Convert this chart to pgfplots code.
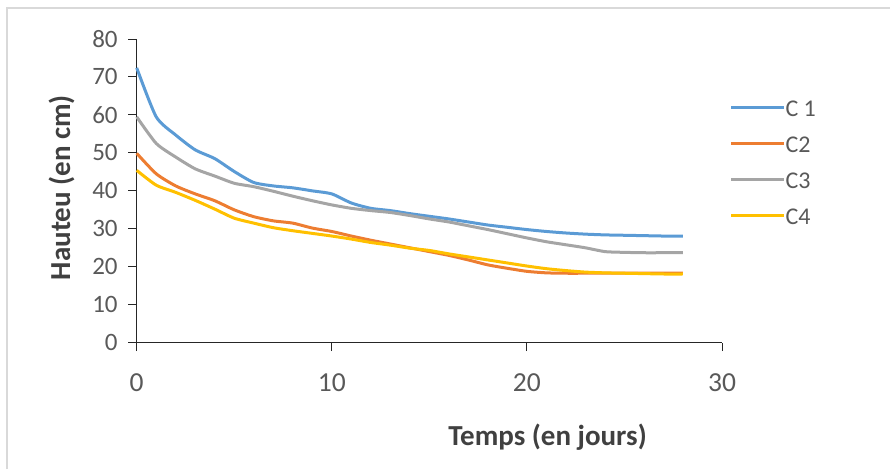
\documentclass[border=0pt]{standalone}
\usepackage{pgfplots}
\pgfplotsset{compat=1.18}
\usepackage{fontspec}
\setmainfont{Carlito}
\definecolor{cA}{HTML}{5B9BD5}
\definecolor{cB}{HTML}{ED7D31}
\definecolor{cC}{HTML}{A5A5A5}
\definecolor{cD}{HTML}{FFC000}
\definecolor{txt}{HTML}{595959}
\definecolor{lab}{HTML}{404040}
\definecolor{frame}{HTML}{D9D9D9}
\pgfplotstableread{
d c1 c2 c3 c4
0 72.4 49.9 59.5 45.4
1 59.5 44.5 52.5 41.5
2 54.7 41.3 48.9 39.6
3 50.8 39.2 45.8 37.5
4 48.5 37.4 43.9 35.2
5 45.1 35.0 42.0 32.8
6 42.2 33.2 41.1 31.5
7 41.3 32.1 39.9 30.3
8 40.8 31.5 38.6 29.5
9 40.0 30.2 37.4 28.8
10 39.2 29.3 36.3 28.1
11 36.8 28.1 35.4 27.3
12 35.4 27.0 34.8 26.4
13 34.8 26.0 34.3 25.7
14 34.0 25.0 33.5 24.9
15 33.3 24.0 32.6 24.3
16 32.6 23.0 31.8 23.4
17 31.8 21.8 30.8 22.6
18 31.0 20.5 29.8 21.8
19 30.4 19.6 28.7 21.0
20 29.8 18.8 27.6 20.2
21 29.3 18.4 26.6 19.5
22 28.9 18.3 25.8 19.0
23 28.6 18.3 25.0 18.6
24 28.4 18.3 24.0 18.4
25 28.3 18.3 23.8 18.3
26 28.2 18.3 23.7 18.2
27 28.1 18.3 23.7 18.1
28 28.1 18.3 23.7 18.1
}\data
\begin{document}
\begin{tikzpicture}
\path[use as bounding box] (0pt,0pt) rectangle (890pt,-469pt);
\draw[frame, line width=2pt] (7pt,-469pt) -- (7pt,-8pt) -- (890pt,-8pt);
\begin{axis}[
  at={(136.7pt,-342.7pt)}, anchor=origin,
  scale only axis, width=585.3pt, height=303.7pt,
  xmin=0, xmax=30, ymin=0, ymax=80,
  xtick={0,10,20,30}, ytick={0,10,...,80},
  axis lines=left, axis line style={black!85, line width=1pt, -},
  tick align=outside, major tick length=8.5pt,
  tick style={black!85, line width=1pt},
  clip=false,
  /pgf/number format/assume math mode=true,
  yticklabel style={font=\fontsize{25}{28}\selectfont, text=txt, xshift=-7pt},
  xticklabel style={font=\fontsize{27.5}{30}\selectfont, text=txt, yshift=-19pt},
  xlabel={Temps (en jours)},
  ylabel={Hauteu (en cm)},
  xlabel style={font=\fontsize{29}{32}\selectfont\bfseries, text=lab, at={(axis description cs:0.702,-0.3105)}, anchor=center},
  ylabel style={font=\fontsize{29}{32}\selectfont\bfseries, text=lab, at={(axis description cs:-0.1285,0.511)}, anchor=center, rotate=0},
  legend style={draw=none, fill=none, at={(axis description cs:1.0125,0.8105)}, anchor=north west,
    font=\fontsize{24}{27}\selectfont, text=txt, row sep=0pt, inner sep=0pt,
    nodes={inner sep=0pt, text height=20pt, text depth=16pt}},
  legend cell align=left,
  /tikz/every even column/.append style={column sep=12pt},
  legend image code/.code={\draw[#1, line width=3pt] (0pt,7.5pt) -- (53pt,7.5pt);},
  every axis plot/.append style={line width=3pt, line join=round, smooth, tension=0.4},
]
\addplot[cA] table[x=d,y=c1] {\data};
\addlegendentry{C 1}
\addplot[cB] table[x=d,y=c2] {\data};
\addlegendentry{C2}
\addplot[cC] table[x=d,y=c3] {\data};
\addlegendentry{C3}
\addplot[cD] table[x=d,y=c4] {\data};
\addlegendentry{C4}
\end{axis}
\end{tikzpicture}
\end{document}
